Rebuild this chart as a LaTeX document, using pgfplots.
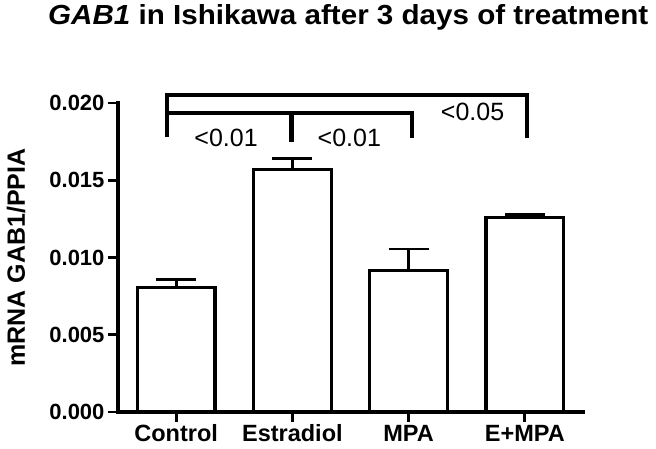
\documentclass[border=0pt]{standalone}
\usepackage{pgfplots}
\pgfplotsset{compat=1.18}
\usepackage{fontspec}
\setmainfont{Liberation Sans}
\begin{document}
\begin{tikzpicture}
\begin{axis}[
  scale only axis,
  width=465pt, height=309pt,
  xmin=-0.5, xmax=3.5,
  ymin=0, ymax=0.020,
  axis x line*=bottom, axis y line*=left,
  axis line style={line width=3.2pt, line cap=rect},
  xtick={0,1,2,3},
  xticklabels={Control,Estradiol,MPA,E+MPA},
  ytick={0,0.005,0.010,0.015,0.020},
  scaled y ticks=false,
  yticklabel style={/pgf/number format/.cd, fixed, fixed zerofill, precision=3, /pgf/number format/assume math mode=true},
  tick align=outside,
  major tick length=10pt,
  tick style={line width=2.8pt, black},
  ticklabel style={font=\bfseries\fontsize{22}{22}\selectfont},
  xticklabel style={font=\bfseries\fontsize{23.5}{23.5}\selectfont, text height=17pt, text depth=0pt, inner sep=2pt},
  ylabel={\bfseries mRNA GAB1/PPIA},
  every axis y label/.style={at={(axis description cs:-0.2194,0.5)}, rotate=90, anchor=center, font=\bfseries\fontsize{25}{25}\selectfont},
  clip=false,
  ybar, bar width=0.67,
]
\addplot[fill=white, draw=black, line width=3.2pt,
  error bars/.cd, y dir=plus, y explicit,
  error bar style={line width=2.8pt, black},
  error mark options={line width=2.8pt, mark size=20pt, rotate=90, black}]
  coordinates {
    (0,0.00805) +- (0,0.00054)
    (1,0.01571) +- (0,0.00071)
    (2,0.00915) +- (0,0.00140)
    (3,0.01260) +- (0,0.00020)
  };
% significance brackets
\draw[line width=3.8pt, line cap=rect, line join=miter]
  (axis cs:-0.08,0.01793) -- (axis cs:-0.08,0.02052) -- (axis cs:3.02,0.02052) -- (axis cs:3.02,0.01786);
\draw[line width=3.8pt, line cap=rect, line join=miter]
  (axis cs:-0.08,0.01935) -- (axis cs:2.03,0.01935) -- (axis cs:2.03,0.01786);
\draw[line width=5pt, line cap=rect]
  (axis cs:0.99,0.01935) -- (axis cs:0.99,0.01765);
\node[font=\fontsize{25}{25}\selectfont] at (axis cs:0.43,0.01773) {<0.01};
\node[font=\fontsize{25}{25}\selectfont] at (axis cs:1.49,0.01773) {<0.01};
\node[font=\fontsize{25}{25}\selectfont] at (axis cs:2.55,0.01942) {<0.05};
\end{axis}
\node[anchor=base west, inner sep=0pt] at (-70pt,387pt) {\resizebox{600pt}{20pt}{\bfseries\itshape GAB1\upshape\ in Ishikawa after 3 days of treatment}};
\pgfresetboundingbox
\path (-118pt,-36pt) rectangle (538pt,412pt);
\end{tikzpicture}
\end{document}
